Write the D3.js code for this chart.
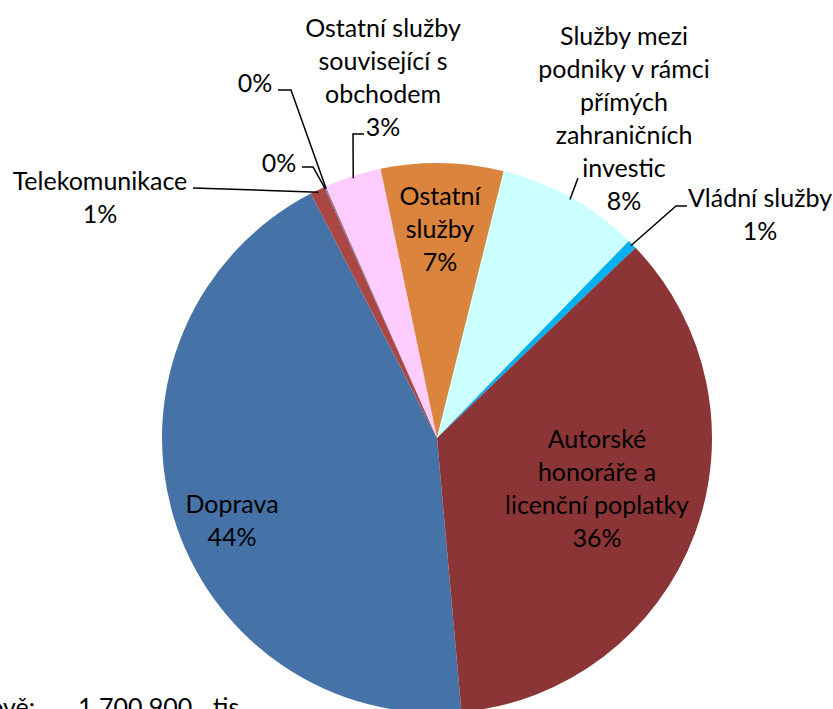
<!DOCTYPE html>
<html>
<head>
<meta charset="utf-8">
<script src="https://cdn.jsdelivr.net/npm/d3@7"></script>
<style>
  body { margin: 0; background: #fff; overflow: hidden; }
  text { font-family: "Lato", "Noto Sans", sans-serif; font-size: 25px; fill: #000; }
</style>
</head>
<body>
<div id="chart"></div>
<script>
// categories in drawing order (clockwise), names as shown in the chart
const categories = ["Doprava", "Telekomunikace", "", "", "Ostatní služby související s obchodem",
  "Ostatní služby", "Služby mezi podniky v rámci přímých zahraničních investic",
  "Vládní služby", "Autorské honoráře a licenční poplatky"];
// share of total, in percent
const shares = [43.9, 0.85, 0.05, 0.05, 3.35, 7.2, 8.4, 0.55, 35.8];
const percentLabels = ["44%", "1%", "0%", "0%", "3%", "7%", "8%", "1%", "36%"];
const colors = ["#4572a7", "#aa4643", "#4572a7", "#aa4643", "#ffccff", "#db843d", "#ccffff", "#00b0f0", "#8b3536"];

const width = 833, height = 709;
const cx = 437, cy = 438, radius = 275;

const svg = d3.select("#chart").append("svg")
    .attr("width", width)
    .attr("height", height);

const g = svg.append("g").attr("transform", "translate(" + cx + "," + cy + ")");

// first slice (Doprava) starts just right of the bottom
const start = 174.9 * Math.PI / 180;
const pie = d3.pie().sort(null).value(d => d)
    .startAngle(start).endAngle(start + 2 * Math.PI);
const arcs = pie(shares);
const arc = d3.arc().innerRadius(0).outerRadius(radius);

g.selectAll("path.slice")
    .data(arcs)
    .enter().append("path")
    .attr("class", "slice")
    .attr("d", arc)
    .attr("fill", (d, i) => colors[i]);

// label layout: lines of text, anchor x (page), first baseline, leader line points
const lineH = 33;
const labels = [
  { i: 0, lines: [categories[0], percentLabels[0]], x: 232, y: 513 },
  { i: 1, lines: [categories[1], percentLabels[1]], x: 100, y: 190, leader: [[193, 188]] },
  { i: 2, lines: [percentLabels[2]], x: 279, y: 172, leader: [[302, 167], [313, 167]] },
  { i: 3, lines: [percentLabels[3]], x: 255, y: 92, leader: [[278, 90], [291, 90]] },
  { i: 4, lines: ["Ostatní služby", "související s", "obchodem", percentLabels[4]], x: 383, y: 37,
    leader: [[364, 134], [353, 134]] },
  { i: 5, lines: ["Ostatní", "služby", percentLabels[5]], x: 440, y: 205 },
  { i: 6, lines: ["Služby mezi", "podniky v rámci", "přímých", "zahraničních", "investic", percentLabels[6]],
    x: 624, y: 45, leader: [[578, 178]] },
  { i: 7, lines: [categories[7], percentLabels[7]], x: 760, y: 207, leader: [[687, 206], [676, 206]] },
  { i: 8, lines: ["Autorské", "honoráře a", "licenční poplatky", percentLabels[8]], x: 597, y: 448 }
];

// leader lines: from label to the slice's outer edge midpoint
const line = d3.line();
labels.filter(l => l.leader).forEach(l => {
  const a = arcs[l.i];
  const mid = (a.startAngle + a.endAngle) / 2;
  const edge = [cx + Math.sin(mid) * (radius - 2), cy - Math.cos(mid) * (radius - 2)];
  svg.append("path")
      .attr("d", line(l.leader.concat([edge])))
      .attr("fill", "none")
      .attr("stroke", "#000")
      .attr("stroke-width", 1.5);
});

labels.forEach(l => {
  const t = svg.append("text")
      .attr("text-anchor", "middle");
  l.lines.forEach((s, k) => {
    t.append("tspan")
        .attr("x", l.x)
        .attr("y", l.y + k * lineH)
        .text(s);
  });
});

// total, partly off the page at the bottom as in the original
svg.append("text").attr("x", 35).attr("y", 716).attr("text-anchor", "end").text("Celkově:");
svg.append("text").attr("x", 78).attr("y", 716).text("1 700 900");
svg.append("text").attr("x", 213).attr("y", 716).text("tis");
</script>
</body>
</html>
